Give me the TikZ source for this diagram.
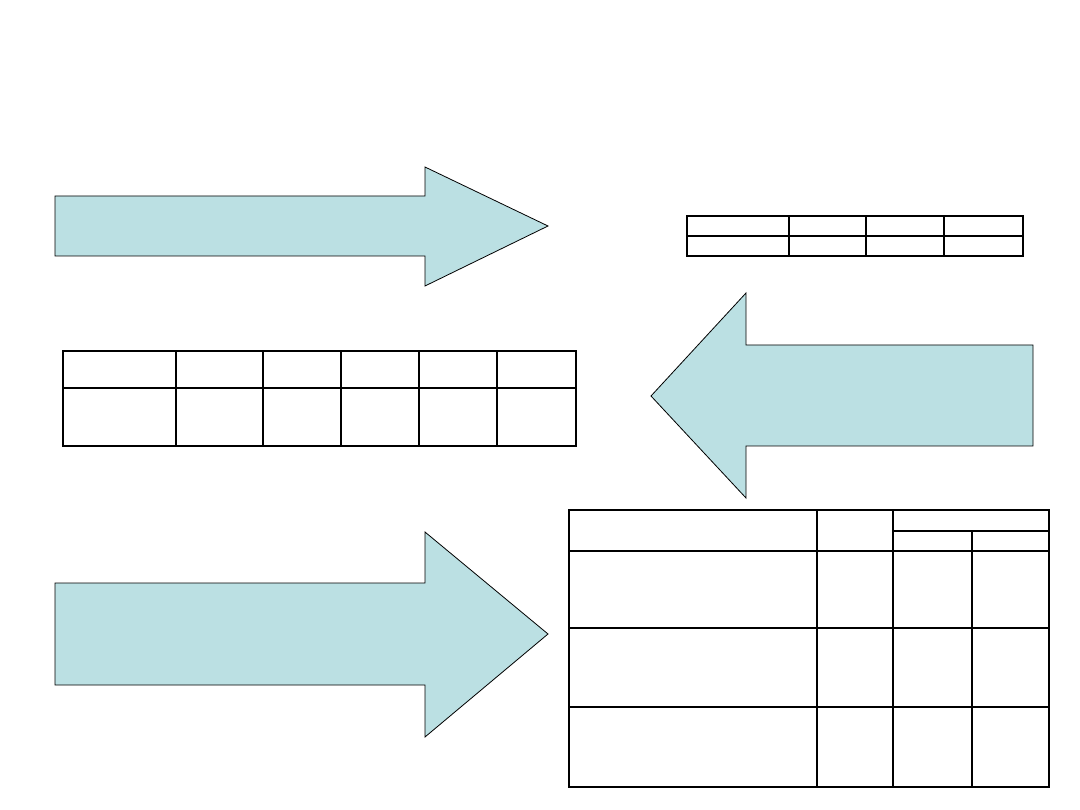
\documentclass[tikz,border=0pt]{standalone}
\definecolor{arrowcyan}{RGB}{187, 224, 227}
\usepackage{tikz}
\usetikzlibrary{calc}
\tikzset{
  bigarrow/.style={fill=arrowcyan, draw=black, line width=0.8pt, line join=miter},
  tabframe/.style={draw=black, line width=2pt},
  tabrule/.style={draw=black, line width=1.2pt},
  tabbold/.style={draw=black, line width=2pt},
}

\begin{document}
\begin{tikzpicture}[x=1pt, y=-1pt]
  \useasboundingbox (0,0) rectangle (1080,810);
  % arrows
  \draw[bigarrow] (55,196) -- (425,196) -- (425,167) -- (548,226) -- (425,286) -- (425,256) -- (55,256) -- cycle;
  \draw[bigarrow] (1033,345) -- (746,345) -- (746,293) -- (651,396) -- (746,498) -- (746,446) -- (1033,446) -- cycle;
  \draw[bigarrow] (55,583) -- (425,583) -- (425,532) -- (548,634) -- (425,737) -- (425,685) -- (55,685) -- cycle;
  % small table, top right
  \draw[tabrule] (687,236) -- (1023,236);
  \foreach \x in {789,866,944} \draw[tabrule] (\x,216) -- (\x,256);
  \draw[tabframe] (687,216) rectangle (1023,256);
  % wide table, middle left
  \draw[tabbold] (63,388) -- (576,388);
  \draw[tabbold] (176,351) -- (176,446);
  \foreach \x in {263,341,419,497} \draw[tabrule] (\x,351) -- (\x,446);
  \draw[tabframe] (63,351) rectangle (576,446);
  % large table, bottom right
  \draw[tabrule] (893,531) -- (1049,531);
  \draw[tabbold] (569,551) -- (1049,551);
  \foreach \y in {628,707} \draw[tabrule] (569,\y) -- (1049,\y);
  \draw[tabbold] (817,510) -- (817,787);
  \draw[tabrule] (893,510) -- (893,787);
  \draw[tabrule] (972,531) -- (972,787);
  \draw[tabframe] (569,510) rectangle (1049,787);
\end{tikzpicture}
\end{document}
